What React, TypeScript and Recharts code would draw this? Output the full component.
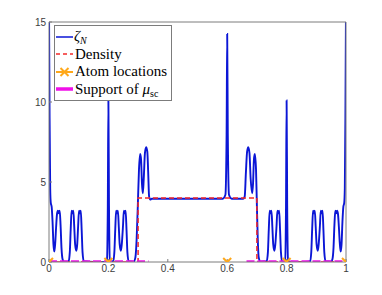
import React from 'react';
import { ComposedChart, Line, XAxis, YAxis, Legend } from 'recharts';

// zeta_N curve as [x, value]
const zetaPoints: [number, number][] = [
  [0, 16], [0.002, 9], [0.004, 4.6], [0.006, 3.7], [0.009, 3.45], [0.012, 2.5], [0.015, 1.1], [0.018, 0.65],
  [0.021, 1.2], [0.024, 2.2], [0.027, 3.0], [0.03, 3.2], [0.033, 3.05], [0.036, 3.2], [0.039, 2.3], [0.042, 0.9],
  [0.046, 0.15], [0.05, 0.02], [0.062, 0.02],
  [0.066, 0.05], [0.07, 0.6], [0.073, 2.0], [0.076, 3.2], [0.079, 3.05], [0.082, 3.2], [0.085, 2.2], [0.088, 1.1],
  [0.092, 0.7], [0.095, 1.1], [0.098, 2.2], [0.101, 3.2], [0.104, 3.05], [0.107, 3.2], [0.11, 2.0], [0.113, 0.6],
  [0.117, 0.05], [0.15, 0], [0.19, 0.01],
  [0.195, 0.1], [0.198, 3.5], [0.2, 10.1], [0.202, 3.5], [0.205, 0.1], [0.21, 0.02],
  [0.216, 0.05], [0.22, 0.6], [0.223, 2.0], [0.226, 3.2], [0.229, 3.05], [0.232, 3.2], [0.235, 2.2], [0.238, 1.1],
  [0.242, 0.7], [0.245, 1.1], [0.249, 2.2], [0.252, 3.2], [0.255, 3.05], [0.258, 3.2], [0.261, 2.0], [0.264, 0.6],
  [0.268, 0.05], [0.285, 0.02],
  [0.291, 0.3], [0.295, 1.4], [0.299, 3.5], [0.303, 5.8], [0.307, 6.75], [0.31, 6.4], [0.313, 4.9], [0.316, 4.3],
  [0.319, 5.2], [0.323, 6.8], [0.327, 7.17], [0.331, 6.9], [0.334, 5.6], [0.337, 4.1], [0.341, 3.9], [0.346, 3.95],
  [0.42, 3.95], [0.5, 3.95], [0.585, 3.95], [0.594, 4.2], [0.598, 8], [0.6, 14.25], [0.602, 8], [0.606, 4.2],
  [0.615, 3.95], [0.654, 3.95],
  [0.659, 4.1], [0.663, 5.6], [0.667, 6.9], [0.671, 7.17], [0.675, 6.8], [0.679, 5.2], [0.684, 4.3], [0.687, 4.9],
  [0.69, 6.4], [0.693, 6.75], [0.697, 5.8], [0.7, 3.5], [0.703, 1.4], [0.706, 0.3], [0.712, 0.02],
  [0.733, 0.05], [0.737, 0.6], [0.74, 2.0], [0.743, 3.2], [0.746, 3.05], [0.749, 3.2], [0.752, 2.2], [0.755, 1.1],
  [0.759, 0.7], [0.762, 1.1], [0.766, 2.2], [0.769, 3.2], [0.772, 3.05], [0.775, 3.2], [0.778, 2.0], [0.781, 0.6],
  [0.785, 0.05], [0.79, 0.02],
  [0.795, 0.1], [0.798, 3.5], [0.8, 10.1], [0.802, 3.5], [0.805, 0.1], [0.81, 0.02], [0.85, 0], [0.873, 0.02],
  [0.879, 0.05], [0.883, 0.6], [0.886, 2.0], [0.889, 3.2], [0.892, 3.05], [0.895, 3.2], [0.898, 2.2], [0.901, 1.1],
  [0.905, 0.7], [0.908, 1.1], [0.912, 2.2], [0.915, 3.2], [0.918, 3.05], [0.921, 3.2], [0.924, 2.0], [0.927, 0.6],
  [0.931, 0.05], [0.95, 0.02],
  [0.954, 0.15], [0.958, 0.9], [0.961, 2.3], [0.964, 3.2], [0.967, 3.05], [0.97, 3.2], [0.973, 3.0], [0.976, 2.2],
  [0.979, 1.2], [0.982, 0.65], [0.985, 1.1], [0.988, 2.5], [0.991, 3.45], [0.994, 3.7], [0.996, 4.6], [0.998, 9],
  [1, 16],
];

const densityX = [0, 0.3, 0.3, 0.7, 0.7, 1];
const densityY = [0, 0, 4, 4, 0, 0];

// support of mu_sc: two intervals, null breaks the line
const supportX = [0, 0.335, 0.5, 0.665, 1];
const supportY = [0, 0, null, 0, 0];

const atomX = [0, 0.2, 0.6, 0.8, 1];

const xTicks = [0, 0.2, 0.4, 0.6, 0.8, 1];
const yTicks = [0, 5, 10, 15];

const zetaData = zetaPoints.map(([x, y]) => ({ x, y }));
const densityData = densityX.map((x, i) => ({ x, y: densityY[i] }));
const supportData = supportX.map((x, i) => ({ x, y: supportY[i] }));
const atomData = atomX.map((x) => ({ x, y: 0 }));

const BLUE = '#0b16d6';
const RED = '#f42a2a';
const ORANGE = '#ffa81a';
const MAGENTA = '#f010e8';
const AXIS = '#7c7c7c';

const XMark = (props: any) => {
  const { cx, cy, index } = props;
  if (cx == null || cy == null) return null;
  const s = 4;
  return (
    <g key={`atom-${index}`}>
      <line x1={cx - s} y1={cy - s} x2={cx + s} y2={cy + s} stroke={ORANGE} strokeWidth={2} />
      <line x1={cx - s} y1={cy + s} x2={cx + s} y2={cy - s} stroke={ORANGE} strokeWidth={2} />
    </g>
  );
};

const rowStyle: React.CSSProperties = { height: 17.5, display: 'flex', alignItems: 'center', whiteSpace: 'nowrap' };

const LegendBox = () => (
  <div
    style={{
      width: 116,
      height: 72,
      border: `1px solid ${AXIS}`,
      background: '#fff',
      paddingTop: 2,
      boxSizing: 'content-box',
      fontFamily: '"Liberation Serif", "DejaVu Serif", serif',
      fontSize: 15,
      color: '#000',
      lineHeight: 1,
    }}
  >
    <div style={rowStyle}>
      <svg width={19} height={10}>
        <line x1={1} y1={5} x2={18} y2={5} stroke={BLUE} strokeWidth={1.5} />
      </svg>
      <span>
        <i>ζ</i>
        <i style={{ fontSize: 10, position: 'relative', top: 3 }}>N</i>
      </span>
    </div>
    <div style={rowStyle}>
      <svg width={19} height={10} style={{ marginRight: 1 }}>
        <line x1={1} y1={5} x2={18} y2={5} stroke={RED} strokeWidth={1.5} strokeDasharray="4 3" />
      </svg>
      <span>Density</span>
    </div>
    <div style={rowStyle}>
      <svg width={19} height={10} style={{ marginRight: 1 }}>
        <line x1={1} y1={5} x2={18} y2={5} stroke={ORANGE} strokeWidth={2} />
        <line x1={5.5} y1={1} x2={13.5} y2={9} stroke={ORANGE} strokeWidth={2} />
        <line x1={5.5} y1={9} x2={13.5} y2={1} stroke={ORANGE} strokeWidth={2} />
      </svg>
      <span>Atom locations</span>
    </div>
    <div style={rowStyle}>
      <svg width={19} height={10} style={{ marginRight: 1 }}>
        <line x1={1} y1={5} x2={18} y2={5} stroke={MAGENTA} strokeWidth={3.5} />
      </svg>
      <span>
        Support of <i>μ</i>
        <span style={{ fontSize: 10, position: 'relative', top: 3 }}>sc</span>
      </span>
    </div>
  </div>
);

const tickFont = { fontSize: 10, fill: '#3c3c3c', fontFamily: '"Liberation Sans", Arial, sans-serif' };

const App: React.FC = () => {
  return (
    <div style={{ position: 'absolute', left: 0, top: 0, width: 382, height: 295, background: '#fff' }}>
      <ComposedChart width={382} height={295} margin={{ top: 21, right: 35, bottom: 13, left: 19 }}>
        <XAxis
          xAxisId="b"
          type="number"
          dataKey="x"
          domain={[0, 1]}
          ticks={xTicks}
          height={20}
          tickSize={-3}
          tickMargin={6}
          tick={tickFont}
          axisLine={{ stroke: AXIS }}
          tickLine={{ stroke: AXIS }}
          allowDataOverflow
        />
        <XAxis
          xAxisId="t"
          orientation="top"
          type="number"
          dataKey="x"
          domain={[0, 1]}
          ticks={xTicks}
          height={1}
          tickSize={-3}
          tick={false}
          axisLine={{ stroke: AXIS }}
          tickLine={{ stroke: AXIS }}
        />
        <YAxis
          yAxisId="l"
          type="number"
          dataKey="y"
          domain={[0, 15]}
          ticks={yTicks}
          width={30}
          tickSize={-3}
          tickMargin={6}
          tick={tickFont}
          axisLine={{ stroke: AXIS }}
          tickLine={{ stroke: AXIS }}
          allowDataOverflow
        />
        <YAxis
          yAxisId="r"
          orientation="right"
          type="number"
          domain={[0, 15]}
          ticks={yTicks}
          width={1}
          tickSize={-3}
          tick={false}
          axisLine={{ stroke: AXIS }}
          tickLine={{ stroke: AXIS }}
        />
        <Line
          xAxisId="b"
          yAxisId="l"
          data={zetaData}
          dataKey="y"
          type="monotoneX"
          stroke={BLUE}
          strokeWidth={1.9}
          dot={false}
          activeDot={false}
          isAnimationActive={false}
        />
        <Line
          xAxisId="b"
          yAxisId="l"
          data={densityData}
          dataKey="y"
          type="linear"
          stroke={RED}
          strokeWidth={1.5}
          strokeDasharray="5 3"
          dot={false}
          activeDot={false}
          isAnimationActive={false}
        />
        <Line
          xAxisId="b"
          yAxisId="l"
          data={supportData}
          dataKey="y"
          type="linear"
          stroke={MAGENTA}
          strokeWidth={3.5}
          strokeDasharray="8 3"
          connectNulls={false}
          dot={false}
          activeDot={false}
          isAnimationActive={false}
        />
        <Line
          xAxisId="b"
          yAxisId="l"
          data={atomData}
          dataKey="y"
          stroke="none"
          dot={<XMark />}
          activeDot={false}
          isAnimationActive={false}
        />
        <Legend
          layout="vertical"
          align="center"
          verticalAlign="middle"
          content={() => <LegendBox />}
          wrapperStyle={{ position: 'absolute', left: 54, top: 25, width: 118, height: 75 }}
        />
      </ComposedChart>
    </div>
  );
};

export default App;
